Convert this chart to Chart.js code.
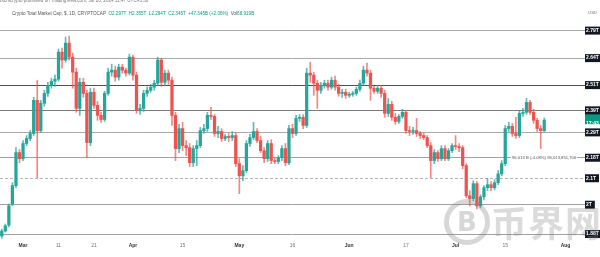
<!DOCTYPE html>
<html>
<head>
<meta charset="utf-8">
<script src="https://cdn.jsdelivr.net/npm/chart.js@4.4.1/dist/chart.umd.min.js"></script>
<style>
  html, body { margin: 0; padding: 0; background: #fff; overflow: hidden; }
  #wrap { position: relative; width: 600px; height: 257px; overflow: hidden; font-family: "Liberation Sans", Arial, sans-serif; }
  #chart { position: absolute; left: 0; top: 0; }
  .txt { position: absolute; white-space: nowrap; line-height: 1; }
  #pub { left: 0; top: -1px; font-size: 4.6px; color: #777; }
  #title { left: 12px; top: 12px; font-size: 4.6px; color: #555; }
  #title .v { color: #089981; }
  #usd { left: 588px; top: 11px; font-size: 4.4px; color: #777; }
  #measure { left: 511px; top: 155.5px; font-size: 4.2px; color: #555; background: #fff; padding: 0 1px; }
  #logo { position: absolute; left: 444px; top: 199px; width: 36px; height: 36px; border: 5px solid rgba(135,135,135,0.33); border-radius: 50%;
          font: bold 26px "DejaVu Sans", sans-serif; color: rgba(135,135,135,0.33); text-align: center; line-height: 36px; }
  #mark { left: 491px; top: 203px; font-size: 36px; font-weight: 700; color: rgba(135,135,135,0.3); font-family: "Noto Sans CJK SC", sans-serif; letter-spacing: 1px; }
</style>
</head>
<body>
<div id="wrap">
  <canvas id="chart" width="600" height="257"></canvas>
  <div class="txt" id="pub">btcmcrypto published on TradingView.com, Jul 26, 2024 11:47 UTC+5:30</div>
  <div class="txt" id="title">Crypto Total Market Cap, $, 1D, CRYPTOCAP &nbsp;<span class="v">O2.297T &nbsp;H2.355T &nbsp;L2.294T &nbsp;C2.345T &nbsp;+47.345B (+2.06%)</span> &nbsp;Vol<span class="v">68.919B</span></div>
  <div class="txt" id="usd">USD</div>
  <div class="txt" id="measure">96.013 B (-4.08%) 96,013,851,706</div>
  <div id="logo">B</div>
  <div class="txt" id="mark">币界网</div>
</div>
<script>
// daily candles, Feb 24 - Jul 26 2024, values in trillions USD
const startDay = '2024-02-24';
const totalDays = 165; // axis runs a few days past the last candle

const opens = [
  1.873, 1.891, 1.913, 1.993, 2.065, 2.202, 2.176, 2.241, 2.263, 2.285,
  2.437, 2.298, 2.423, 2.470, 2.509, 2.529, 2.539, 2.676, 2.635, 2.723,
  2.650, 2.574, 2.399, 2.524, 2.470, 2.245, 2.475, 2.413, 2.367, 2.348,
  2.470, 2.574, 2.584, 2.549, 2.599, 2.584, 2.569, 2.650, 2.559, 2.390,
  2.399, 2.470, 2.485, 2.500, 2.519, 2.635, 2.524, 2.569, 2.534, 2.367,
  2.219, 2.307, 2.232, 2.223, 2.159, 2.219, 2.232, 2.298, 2.307, 2.367,
  2.362, 2.285, 2.294, 2.263, 2.272, 2.267, 2.276, 2.155, 2.105, 2.126,
  2.241, 2.267, 2.294, 2.254, 2.210, 2.176, 2.241, 2.168, 2.164, 2.180,
  2.219, 2.159, 2.307, 2.285, 2.353, 2.358, 2.321, 2.569, 2.559, 2.519,
  2.485, 2.509, 2.519, 2.500, 2.534, 2.500, 2.470, 2.475, 2.461, 2.466,
  2.470, 2.490, 2.519, 2.584, 2.569, 2.495, 2.480, 2.495, 2.470, 2.376,
  2.418, 2.358, 2.339, 2.362, 2.381, 2.298, 2.294, 2.298, 2.285, 2.276,
  2.267, 2.232, 2.168, 2.202, 2.176, 2.219, 2.176, 2.210, 2.232, 2.228,
  2.223, 2.147, 2.025, 2.013, 2.073, 1.986, 2.021, 2.057, 2.069, 2.057,
  2.077, 2.113, 2.155, 2.307, 2.317, 2.285, 2.276, 2.376, 2.381, 2.427,
  2.381, 2.344, 2.307, 2.297
];
const highs = [
  1.898, 1.917, 1.993, 2.077, 2.223, 2.215, 2.254, 2.276, 2.298, 2.451,
  2.534, 2.437, 2.485, 2.524, 2.544, 2.559, 2.692, 2.697, 2.755, 2.761,
  2.671, 2.594, 2.544, 2.544, 2.485, 2.495, 2.495, 2.432, 2.381, 2.480,
  2.594, 2.614, 2.604, 2.614, 2.614, 2.594, 2.666, 2.660, 2.574, 2.418,
  2.485, 2.500, 2.514, 2.534, 2.650, 2.645, 2.584, 2.584, 2.549, 2.381,
  2.326, 2.335, 2.254, 2.241, 2.232, 2.254, 2.312, 2.326, 2.381, 2.404,
  2.371, 2.317, 2.307, 2.281, 2.285, 2.294, 2.290, 2.176, 2.147, 2.254,
  2.281, 2.335, 2.307, 2.272, 2.223, 2.254, 2.258, 2.180, 2.189, 2.232,
  2.241, 2.321, 2.326, 2.367, 2.371, 2.371, 2.594, 2.624, 2.574, 2.534,
  2.524, 2.534, 2.534, 2.549, 2.554, 2.514, 2.490, 2.490, 2.475, 2.480,
  2.500, 2.534, 2.604, 2.619, 2.584, 2.504, 2.509, 2.509, 2.485, 2.446,
  2.432, 2.376, 2.371, 2.395, 2.390, 2.317, 2.312, 2.353, 2.294, 2.285,
  2.276, 2.245, 2.215, 2.210, 2.232, 2.232, 2.219, 2.241, 2.276, 2.241,
  2.232, 2.155, 2.045, 2.085, 2.081, 2.029, 2.065, 2.093, 2.081, 2.089,
  2.126, 2.168, 2.321, 2.335, 2.330, 2.358, 2.390, 2.399, 2.446, 2.437,
  2.395, 2.353, 2.321, 2.355
];
const lows = [
  1.865, 1.887, 1.906, 1.986, 2.057, 2.159, 2.168, 2.232, 2.254, 2.276,
  2.097, 2.290, 2.409, 2.456, 2.495, 2.504, 2.529, 2.594, 2.624, 2.635,
  2.495, 2.381, 2.367, 2.451, 2.180, 2.232, 2.399, 2.344, 2.335, 2.339,
  2.461, 2.554, 2.529, 2.534, 2.569, 2.554, 2.559, 2.534, 2.376, 2.371,
  2.385, 2.456, 2.475, 2.485, 2.509, 2.504, 2.509, 2.514, 2.321, 2.168,
  2.202, 2.210, 2.189, 2.143, 2.143, 2.147, 2.223, 2.285, 2.294, 2.348,
  2.272, 2.267, 2.250, 2.254, 2.250, 2.254, 2.143, 2.033, 2.085, 2.118,
  2.228, 2.258, 2.245, 2.202, 2.159, 2.164, 2.155, 2.155, 2.155, 2.168,
  2.147, 2.151, 2.267, 2.276, 2.339, 2.307, 2.312, 2.524, 2.461, 2.399,
  2.470, 2.495, 2.485, 2.490, 2.485, 2.456, 2.451, 2.446, 2.451, 2.456,
  2.461, 2.480, 2.509, 2.554, 2.437, 2.470, 2.470, 2.451, 2.358, 2.362,
  2.344, 2.326, 2.330, 2.353, 2.285, 2.276, 2.281, 2.272, 2.263, 2.258,
  2.223, 2.097, 2.155, 2.164, 2.168, 2.168, 2.168, 2.202, 2.215, 2.206,
  2.134, 2.017, 1.986, 2.005, 1.974, 1.978, 2.009, 2.045, 2.045, 2.048,
  2.069, 2.105, 2.147, 2.294, 2.272, 2.263, 2.267, 2.362, 2.371, 2.371,
  2.330, 2.294, 2.219, 2.294
];
const closes = [
  1.891, 1.910, 1.986, 2.065, 2.202, 2.176, 2.241, 2.263, 2.285, 2.437,
  2.298, 2.423, 2.470, 2.509, 2.529, 2.539, 2.676, 2.635, 2.723, 2.650,
  2.574, 2.399, 2.524, 2.470, 2.245, 2.475, 2.413, 2.367, 2.348, 2.470,
  2.574, 2.584, 2.549, 2.599, 2.584, 2.569, 2.650, 2.559, 2.390, 2.399,
  2.470, 2.485, 2.500, 2.519, 2.635, 2.524, 2.569, 2.534, 2.367, 2.219,
  2.307, 2.232, 2.223, 2.159, 2.219, 2.232, 2.298, 2.307, 2.367, 2.362,
  2.285, 2.294, 2.263, 2.272, 2.267, 2.276, 2.155, 2.105, 2.126, 2.241,
  2.267, 2.294, 2.254, 2.210, 2.176, 2.241, 2.168, 2.164, 2.180, 2.219,
  2.159, 2.307, 2.285, 2.353, 2.358, 2.321, 2.569, 2.559, 2.519, 2.485,
  2.509, 2.519, 2.500, 2.534, 2.500, 2.470, 2.475, 2.461, 2.466, 2.470,
  2.490, 2.519, 2.584, 2.569, 2.495, 2.480, 2.495, 2.470, 2.376, 2.418,
  2.358, 2.339, 2.362, 2.381, 2.298, 2.294, 2.298, 2.285, 2.276, 2.267,
  2.232, 2.168, 2.202, 2.176, 2.219, 2.176, 2.210, 2.232, 2.228, 2.223,
  2.147, 2.025, 2.013, 2.073, 1.986, 2.021, 2.057, 2.069, 2.057, 2.077,
  2.113, 2.155, 2.307, 2.317, 2.285, 2.276, 2.376, 2.381, 2.427, 2.381,
  2.344, 2.307, 2.298, 2.345
];

// horizontal levels drawn on the chart and their price-scale labels
const levels      = [2.79,    2.645,   2.51,    2.39,    2.29,    2.18,    2.095,  1.99, 1.88];
const levelLabels = ['2.79T', '2.64T', '2.51T', '2.39T', '2.29T', '2.18T', '2.1T', '2T', '1.88T'];
const levelColors = ['#a8a8a8', '#a8a8a8', '#505050', '#7a7a7a', '#a8a8a8', '#a0a0a0', '#b4b4b4', '#a0a0a0', '#a0a0a0'];
const dashedLevel = 2.095;
const lastPrice = 2.345;
const lastPriceLabel = ['2.34T', '17:43'];

// x axis labels
const xTickDates  = ['2024-03-01', '2024-03-11', '2024-03-21', '2024-04-01', '2024-04-15', '2024-05-01',
                     '2024-05-16', '2024-06-01', '2024-06-17', '2024-07-01', '2024-07-15', '2024-08-01'];
const xTickLabels = ['Mar', '11', '21', 'Apr', '15', 'May', '16', 'Jun', '17', 'Jul', '15', 'Aug'];
const monthLabels = ['Mar', 'Apr', 'May', 'Jun', 'Jul', 'Aug'];

const UP = '#26a69a';
const DOWN = '#ef5350';

const days = [];
const d0 = new Date(startDay + 'T00:00:00Z');
for (let i = 0; i < totalDays; i++) {
  const d = new Date(d0.getTime() + i * 86400000);
  days.push(d.toISOString().slice(0, 10));
}

const bodyColors = opens.map((o, i) => closes[i] >= o ? UP : DOWN);
const wickColors = opens.map((o, i) => closes[i] >= o ? 'rgba(38,166,154,0.75)' : 'rgba(239,83,80,0.7)');

const isMonth = value => monthLabels.includes(xTickLabels[xTickDates.indexOf(days[value])]);

Chart.defaults.font.family = '"Liberation Sans", Arial, sans-serif';

new Chart(document.getElementById('chart'), {
  type: 'bar',
  data: {
    labels: days,
    datasets: [
      {
        label: 'body',
        data: opens.map((o, i) => [o, closes[i]]),
        backgroundColor: bodyColors,
        borderWidth: 0,
        barThickness: 2.6,
        grouped: false,
        order: 0
      },
      {
        label: 'wick',
        data: lows.map((l, i) => [l, highs[i]]),
        backgroundColor: wickColors,
        borderWidth: 0,
        barThickness: 1,
        grouped: false,
        order: 1
      }
    ]
  },
  options: {
    responsive: false,
    animation: false,
    devicePixelRatio: 1,
    layout: { padding: { top: 22, bottom: 4, left: 0, right: 0 } },
    plugins: { legend: { display: false }, tooltip: { enabled: false } },
    scales: {
      x: {
        type: 'category',
        grid: { display: false, drawTicks: false },
        border: { display: false },
        afterBuildTicks: scale => {
          scale.ticks = scale.ticks.filter(t => xTickDates.includes(days[t.value]));
        },
        ticks: {
          autoSkip: false,
          maxRotation: 0,
          minRotation: 0,
          padding: 4,
          font: ctx => ({ size: 5, weight: (ctx.tick && isMonth(ctx.tick.value)) ? 'bold' : 'normal' }),
          color: ctx => (ctx.tick && isMonth(ctx.tick.value)) ? '#333' : '#777',
          callback: value => {
            const k = xTickDates.indexOf(days[value]);
            return k >= 0 ? xTickLabels[k] : '';
          }
        }
      },
      y: {
        type: 'logarithmic',
        position: 'right',
        min: 1.862,
        max: 2.837,
        afterFit: scale => { scale.width = 15; },
        afterBuildTicks: scale => {
          // last price first so the level labels are painted over it
          scale.ticks = [{ value: lastPrice }].concat(levels.map(v => ({ value: v })));
        },
        border: {
          display: false,
          dash: ctx => (ctx.tick && ctx.tick.value === dashedLevel) ? [3, 2] : []
        },
        grid: {
          drawTicks: false,
          lineWidth: 1,
          color: ctx => {
            if (!ctx.tick) return 'transparent';
            const k = levels.indexOf(ctx.tick.value);
            return k >= 0 ? levelColors[k] : 'transparent';
          }
        },
        ticks: {
          padding: 1,
          color: '#fff',
          font: { size: 5, weight: 'bold' },
          showLabelBackdrop: true,
          backdropPadding: { top: 1, bottom: 1, left: 1.5, right: 3 },
          backdropColor: ctx => (ctx.tick && ctx.tick.value === lastPrice) ? '#089981' : '#131722',
          callback: value => {
            if (value === lastPrice) return lastPriceLabel;
            const k = levels.indexOf(value);
            return k >= 0 ? levelLabels[k] : '';
          }
        }
      }
    }
  }
});
</script>
</body>
</html>
